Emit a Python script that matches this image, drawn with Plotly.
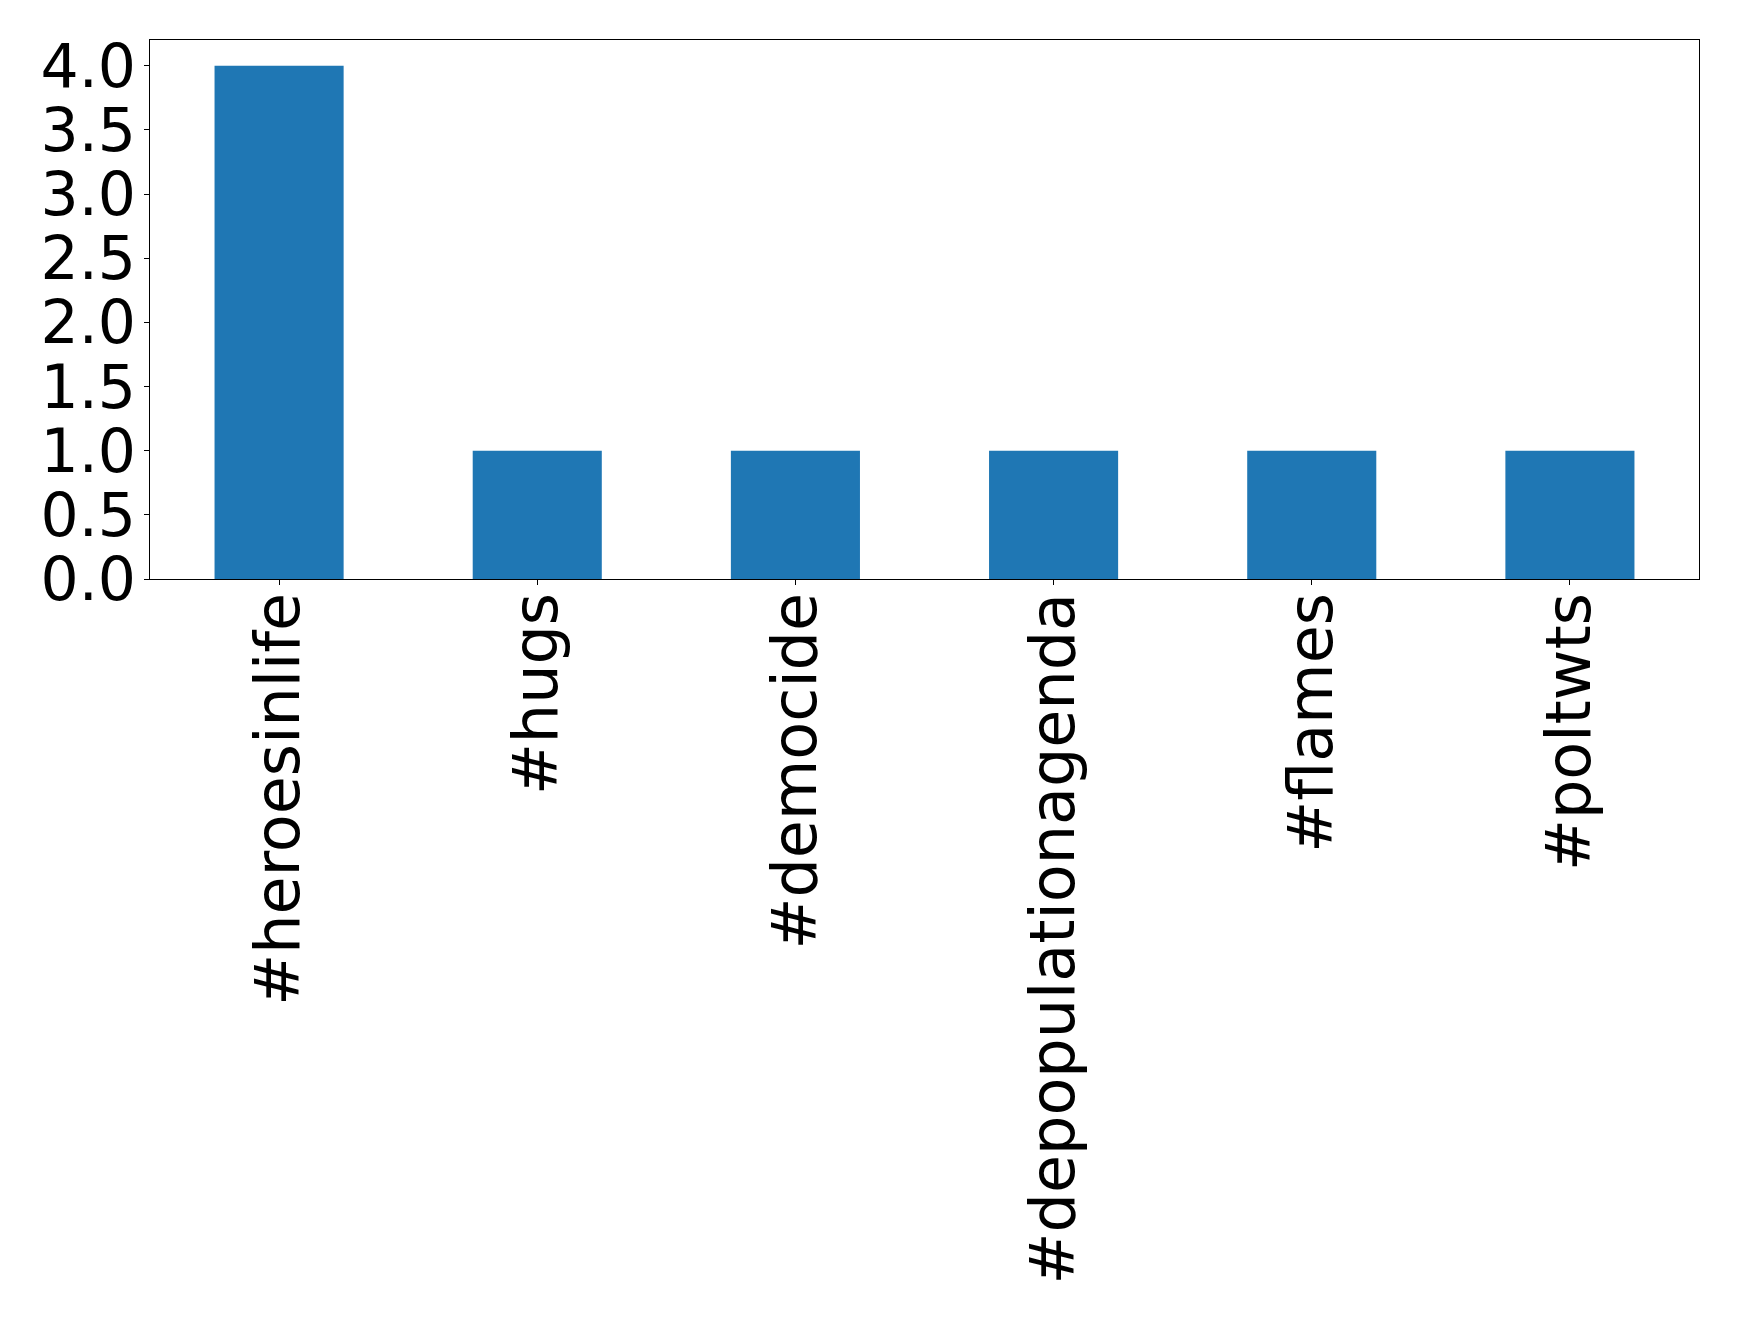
import plotly.graph_objects as go

categories = ["#heroesinlife", "#hugs", "#democide", "#depopulationagenda", "#flames", "#poltwts"]
counts = [4, 1, 1, 1, 1, 1]

fig = go.Figure(go.Bar(x=categories, y=counts, width=0.5, marker_color="#1f77b4", marker_line_width=0))

axis_common = dict(showline=True, linecolor="black", linewidth=1.2, mirror=True,
                   ticks="outside", ticklen=5, tickcolor="black", tickwidth=1,
                   showgrid=False, zeroline=False)

fig.update_xaxes(range=[-0.5, 5.5], tickangle=-90, ticklabelstandoff=-17,
                 tickfont=dict(family="DejaVu Sans", size=62, color="black"), **axis_common)
fig.update_yaxes(range=[0, 4.2], dtick=0.5, tick0=0, tickformat=".1f", ticklabelstandoff=-4,
                 tickfont=dict(family="DejaVu Sans", size=60, color="black"), **axis_common)

fig.update_layout(width=1739, height=1325, plot_bgcolor="white", paper_bgcolor="white",
                  margin=dict(l=142, r=48, t=32, b=754, autoexpand=False), showlegend=False)

fig.write_html("out.html")
